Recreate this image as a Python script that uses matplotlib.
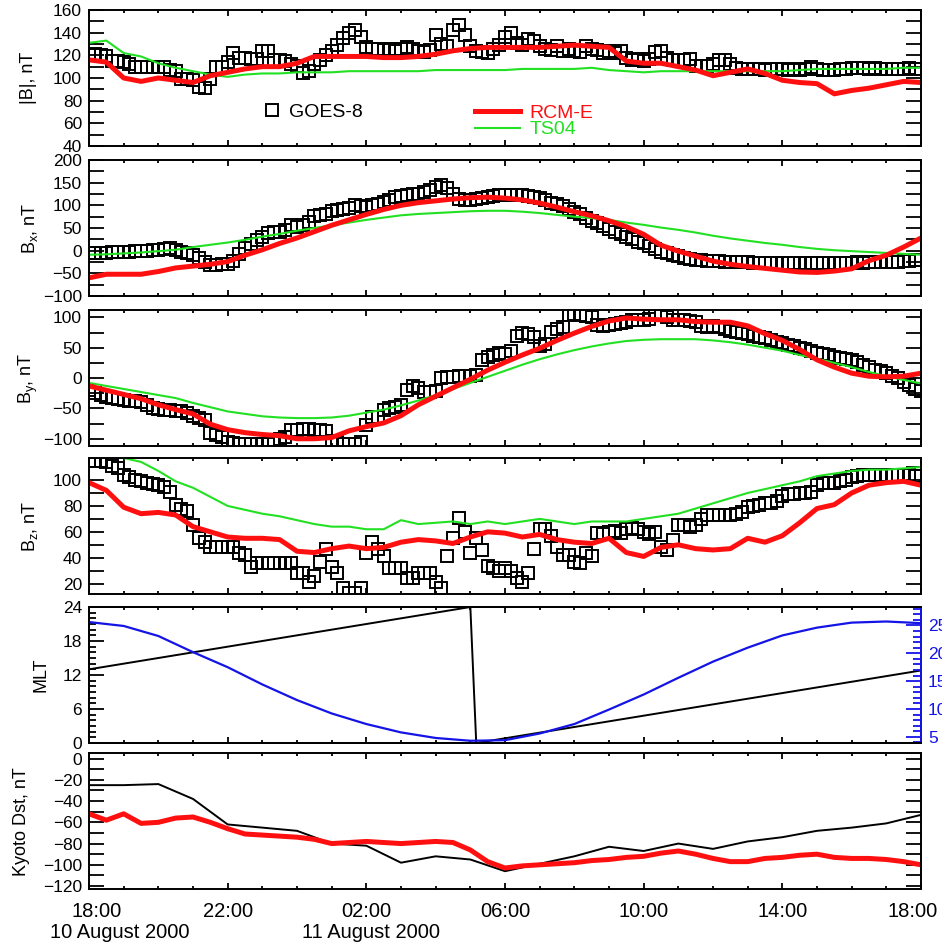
import numpy as np
import matplotlib
matplotlib.use("Agg")
import matplotlib.pyplot as plt
from matplotlib.lines import Line2D
from matplotlib.ticker import MultipleLocator, FixedLocator
from matplotlib.transforms import ScaledTranslation, blended_transform_factory

plt.rcParams['font.family'] = ['Liberation Sans', 'DejaVu Sans']
plt.rcParams['mathtext.default'] = 'regular'

# ---- data (hours after 18:00 UT, 10 August 2000) ----
t_goes = np.arange(145) / 6.0       # 10-minute GOES-8 samples
t_model = np.arange(49) / 2.0       # half-hour model samples
t_dst = np.arange(25)               # hourly Kyoto Dst

goes_b = [120, 121, 120, 119, 115, 115,
          114, 112, 110, 110, 110, 110,
          110, 110, 107, 106, 99, 99,
          98, 92, 91, 99, 110, 110,
          114, 122, 118, 118, 117, 117,
          124, 124, 116, 116, 115, 112,
          111, 104, 106, 112, 116, 120,
          124, 129, 135, 140, 142, 136,
          127, 126, 126, 125, 126, 124,
          126, 127, 126, 124, 123, 125,
          138, 130, 128, 142, 147, 138,
          128, 124, 123, 122, 126, 129,
          136, 140, 131, 129, 134, 133,
          128, 126, 125, 128, 124, 126,
          124, 123, 128, 126, 125, 122,
          124, 122, 124, 118, 116, 117,
          115, 117, 123, 124, 118, 116,
          116, 116, 117, 111, 111, 111,
          112, 116, 116, 112, 109, 108,
          108, 108, 108, 107, 108, 108,
          108, 107, 108, 107, 108, 110,
          108, 107, 107, 107, 108, 108,
          109, 109, 109, 108, 109, 108,
          108, 108, 108, 108, 109, 108,
          108]
rcm_b = [116, 114, 100, 97, 100, 98, 96, 102, 105, 108, 110, 110, 113, 119, 119, 119,
         119, 118, 118, 119, 121, 124, 126, 127, 127, 127, 127, 128, 129, 128, 127, 115,
         113, 113, 110, 107, 102, 105, 108, 104, 98, 96, 95, 86, 89, 91, 94, 97, 96]
ts04_b = [131, 133, 122, 119, 113, 109, 106, 103, 101, 103, 104, 104, 105, 105, 105, 106,
          106, 106, 106, 106, 107, 107, 107, 107, 107, 108, 108, 108, 108, 109, 107, 106,
          105, 106, 106, 106, 106, 106, 106, 106, 106, 107, 108, 108, 108, 108, 108, 109, 109]

goes_bx = [-6, -6, -5, -5, -4, -4,
           -3, -2, -1, 0, 0, 1,
           1, 4, 5, 2, -2, -5,
           -10, -17, -25, -32, -32, -30,
           -30, -22, -8, 6, 14, 24,
           30, 40, 41, 42, 45, 56,
           52, 56, 63, 76, 78, 82,
           88, 90, 92, 95, 100, 98,
           96, 100, 104, 108, 112, 118,
           120, 122, 124, 126, 130, 134,
           140, 145, 138, 125, 115, 112,
           112, 114, 117, 118, 120, 122,
           122, 123, 122, 122, 120, 118,
           116, 112, 106, 102, 98, 92,
           86, 80, 72, 66, 60, 54,
           48, 42, 36, 30, 26, 20,
           16, 10, 4, -2, -6, -10,
           -12, -16, -18, -20, -21, -22,
           -22, -23, -24, -25, -25, -25,
           -26, -27, -28, -28, -28, -28,
           -28, -28, -28, -28, -28, -28,
           -28, -27, -28, -28, -27, -27,
           -27, -26, -27, -26, -26, -26,
           -25, -25, -24, -23, -22, -21,
           -20]
rcm_bx = [-60, -52, -52, -52, -46, -38, -34, -30, -24, -10, 2, 16, 28, 42, 56, 68,
          80, 91, 100, 106, 110, 114, 117, 118, 116, 112, 105, 96, 86, 77, 66, 53,
          36, 12, -1, -12, -23, -30, -35, -39, -43, -47, -48, -45, -40, -22, -10, 8, 28]
ts04_bx = [-9, -8, -6, -4, -1, 2, 8, 13, 18, 24, 31, 37, 44, 50, 56, 62,
           68, 73, 78, 81, 83, 85, 87, 88, 88, 86, 83, 79, 75, 72, 68, 62,
           57, 51, 46, 40, 33, 27, 22, 17, 13, 8, 4, 1, -1, -3, -5, -7, -9]

goes_by = [-20, -24, -28, -31, -33, -35,
           -36, -37, -38, -39, -44, -50,
           -51, -52, -53, -54, -55, -58,
           -62, -66, -69, -91, -94, -97,
           -105, -107, -108, -108, -108, -108,
           -108, -108, -105, -100, -97, -86,
           -85, -84, -84, -85, -86, -88,
           -104, -106, -108, -108, -108, -106,
           -77, -64, -64, -53, -50, -47,
           -45, -20, -13, -16, -23, -23,
           -22, 0, 1, 2, 3, 3,
           4, 5, 30, 34, 38, 42,
           40, 44, 70, 74, 72, 68,
           52, 56, 76, 80, 84, 104,
           106, 104, 102, 100, 88, 86,
           87, 89, 91, 93, 95, 96,
           96, 97, 106, 107, 100, 96,
           95, 96, 94, 92, 86, 84,
           85, 84, 80, 78, 76, 74,
           72, 70, 68, 66, 63, 60,
           57, 55, 52, 50, 48, 45,
           42, 40, 38, 35, 33, 31,
           30, 27, 22, 18, 14, 11,
           8, 4, 0, -6, -12, -18,
           -22]
rcm_by = [-13, -20, -27, -34, -44, -52, -59, -76, -85, -90, -93, -95, -100, -100, -98, -87,
          -80, -74, -62, -44, -30, -16, -2, 13, 26, 38, 49, 62, 74, 85, 94, 99,
          97, 96, 96, 93, 92, 92, 86, 73, 62, 47, 30, 18, 8, 3, 2, 3, 8]
ts04_by = [-8, -13, -18, -23, -28, -33, -41, -48, -55, -59, -63, -65, -66, -66, -65, -62,
           -57, -52, -45, -37, -28, -18, -8, 2, 12, 22, 31, 39, 46, 52, 57, 61,
           63, 64, 64, 64, 62, 59, 55, 50, 45, 38, 32, 25, 18, 10, 3, -3, -9]

goes_bz = [115, 115, 115, 114, 111, 109,
           104, 102, 100, 99, 98, 97,
           96, 95, 91, 81, 78, 76,
           65, 55, 52, 48, 48, 48,
           48, 48, 44, 42, 33, 36,
           36, 36, 36, 36, 36, 36,
           28, 28, 21, 26, 37, 47,
           33, 28, 17, 13, 13, 17,
           44, 52, 47, 41, 32, 32,
           32, 24, 24, 28, 28, 28,
           21, 17, 41, 55, 71, 60,
           44, 55, 46, 34, 32, 30,
           32, 30, 24, 21, 28, 47,
           62, 62, 57, 48, 42, 42,
           37, 36, 44, 41, 59, 58,
           60, 61, 59, 62, 63, 62,
           60, 58, 60, 48, 46, 54,
           65, 65, 64, 65, 70, 73,
           73, 73, 73, 73, 74, 75,
           79, 80, 81, 82, 82, 84,
           88, 89, 89, 90, 90, 91,
           96, 98, 98, 98, 99, 100,
           102, 103, 104, 104, 104, 104,
           104, 104, 104, 104, 104, 103,
           103]
rcm_bz = [98, 92, 79, 74, 75, 73, 64, 60, 56, 55, 55, 54, 45, 44, 47, 49,
          47, 48, 52, 54, 53, 51, 56, 60, 59, 56, 58, 54, 52, 51, 55, 44,
          41, 48, 50, 47, 46, 47, 55, 52, 57, 67, 78, 81, 90, 96, 98, 99, 96]
ts04_bz = [122, 120, 117, 114, 107, 99, 94, 87, 80, 77, 74, 72, 69, 66, 64, 64,
           62, 62, 69, 66, 67, 68, 66, 68, 66, 68, 70, 68, 66, 68, 68, 68,
           70, 72, 74, 78, 82, 86, 90, 93, 96, 99, 103, 105, 107, 108, 108, 109, 110]

t_mlt = [0.0, 11.0, 11.17, 24.0]
mlt = [13.0, 24.0, 0.0, 12.8]
blue_right = [25.6, 24.9, 23.1, 20.2, 17.5, 14.4, 11.6, 9.2, 7.3, 5.8, 4.8, 4.3, 4.4,
              5.6, 7.3, 9.9, 12.6, 15.6, 18.5, 21.0, 23.2, 24.6, 25.5, 25.7, 25.4]

kyoto_dst = [-25, -25, -24, -38, -62, -65, -68, -80, -82, -98, -92, -95, -106,
             -99, -92, -83, -87, -80, -85, -78, -74, -68, -65, -61, -53]
rcm_dst = [-52, -58, -52, -61, -60, -56, -55, -60, -66, -71, -72, -73, -74, -76, -80, -79,
           -78, -79, -80, -79, -78, -79, -86, -97, -103, -101, -100, -99, -98, -96, -95, -93,
           -92, -89, -87, -90, -94, -97, -97, -94, -93, -91, -90, -93, -94, -94, -95, -97, -100]

hour_ticks = [0, 4, 8, 12, 16, 20, 24]
hour_labels = ["18:00", "22:00", "02:00", "06:00", "10:00", "14:00", "18:00"]

RED = '#ff1010'
GREEN = '#22e022'
BLUE = '#1414e6'

fig = plt.figure(figsize=(9.42, 9.43), dpi=100)
left, width, h = 0.0945, 0.8832, 0.1442
bottoms = [0.8452, 0.6861, 0.5270, 0.3701, 0.2121, 0.0570]
axes = [fig.add_axes([left, b, width, h]) for b in bottoms]


def style(ax, ymaj, ymin, minlen=10.5):
    ax.set_xlim(0, 24)
    ax.xaxis.set_major_locator(FixedLocator(hour_ticks))
    ax.xaxis.set_minor_locator(MultipleLocator(1))
    ax.yaxis.set_major_locator(MultipleLocator(ymaj))
    ax.yaxis.set_minor_locator(MultipleLocator(ymin))
    ax.tick_params(which='both', direction='in', top=True, right=True, width=1.3)
    ax.tick_params(axis='x', which='major', length=4)
    ax.tick_params(axis='x', which='minor', length=2.5)
    ax.tick_params(axis='y', which='major', length=10.5, labelsize=12.5, pad=5)
    ax.tick_params(axis='y', which='minor', length=minlen)
    ax.tick_params(axis='x', labelbottom=False)
    for s in ax.spines.values():
        s.set_linewidth(1.4)


def field_panel(ax, goes, rcm, ts04, ylim, ymaj, ymin, label):
    ax.plot(t_goes, goes, ls='none', marker='s', ms=8, mfc='none', mec='k', mew=1.4)
    ax.plot(t_model, ts04, color=GREEN, lw=1.5)
    ax.plot(t_model[:len(rcm)], rcm, color=RED, lw=3.6)
    ax.set_ylim(*ylim)
    style(ax, ymaj, ymin)
    ax.set_ylabel(label, fontsize=13)


field_panel(axes[0], goes_b, rcm_b, ts04_b, (40, 160), 20, 10, '|B|, nT')
field_panel(axes[1], goes_bx, rcm_bx, ts04_bx, (-100, 200), 50, 25, 'B$_x$, nT')
field_panel(axes[2], goes_by, rcm_by, ts04_by, (-112, 112), 50, 25, 'B$_y$, nT')
field_panel(axes[3], goes_bz, rcm_bz, ts04_bz, (12, 117), 20, 10, 'B$_z$, nT')

# legend in top panel
ax = axes[0]
goes_h = Line2D([], [], ls='none', marker='s', ms=8, mfc='none', mec='k', mew=1.4)
leg1 = ax.legend([goes_h], ['GOES-8'], loc='center left', bbox_to_anchor=(0.208, 0.25),
                 frameon=False, fontsize=14, handlelength=1.0, handletextpad=0.4,
                 borderpad=0, borderaxespad=0)
ax.add_artist(leg1)
rcm_h = Line2D([], [], color=RED, lw=3.6)
ts_h = Line2D([], [], color=GREEN, lw=1.5)
ax.legend([rcm_h, ts_h], ['RCM-E', 'TS04'], loc='center left', bbox_to_anchor=(0.464, 0.18),
          frameon=False, fontsize=14, handlelength=2.3, handletextpad=0.5,
          labelspacing=-0.08, borderpad=0, borderaxespad=0, labelcolor='linecolor')

# MLT panel
ax = axes[4]
ax.plot(t_mlt, mlt, color='k', lw=1.4)
ax.set_ylim(0, 24)
style(ax, 6, 1, minlen=5)
ax.tick_params(axis='y', right=False)
ax.set_ylabel('MLT', fontsize=13)
axr = ax.twinx()
axr.plot(t_dst, blue_right, color=BLUE, lw=1.6)
axr.set_ylim(3.9, 28.3)
axr.set_xlim(0, 24)
axr.yaxis.set_major_locator(MultipleLocator(5))
axr.yaxis.set_minor_locator(MultipleLocator(1))
axr.tick_params(axis='y', which='both', direction='in', colors=BLUE, width=1.3, labelsize=12.5, pad=5)
axr.tick_params(axis='y', which='major', length=10.5)
axr.tick_params(axis='y', which='minor', length=5.5)
axr.spines['right'].set_color(BLUE)
for s in axr.spines.values():
    s.set_linewidth(1.4)

# Dst panel
ax = axes[5]
ax.plot(t_dst, kyoto_dst, color='k', lw=1.4)
ax.plot(t_model, rcm_dst, color=RED, lw=3.6)
ax.set_ylim(-123, 5)
style(ax, 20, 10)
ax.set_ylabel('Kyoto Dst, nT', fontsize=13)
ax.tick_params(axis='x', labelbottom=True, labelsize=14.5, pad=9)
ax.set_xticklabels(hour_labels)
labs = ax.get_xticklabels()
labs[0].set_transform(labs[0].get_transform() + ScaledTranslation(0.08, 0, fig.dpi_scale_trans))
labs[-1].set_transform(labs[-1].get_transform() + ScaledTranslation(-0.08, 0, fig.dpi_scale_trans))
tr = blended_transform_factory(ax.transData, ax.transAxes)
ax.annotate('10 August 2000', xy=(0, 0), xycoords=tr, xytext=(22, -31),
            textcoords='offset points', ha='center', va='center', fontsize=14.5)
ax.annotate('11 August 2000', xy=(8, 0), xycoords=tr, xytext=(3, -31),
            textcoords='offset points', ha='center', va='center', fontsize=14.5)

label_x = [-0.063, -0.059, -0.059, -0.059, -0.048, -0.071]
for a, lx in zip(axes, label_x):
    a.yaxis.set_label_coords(lx, 0.5)

fig.savefig('out.png', dpi=100)
